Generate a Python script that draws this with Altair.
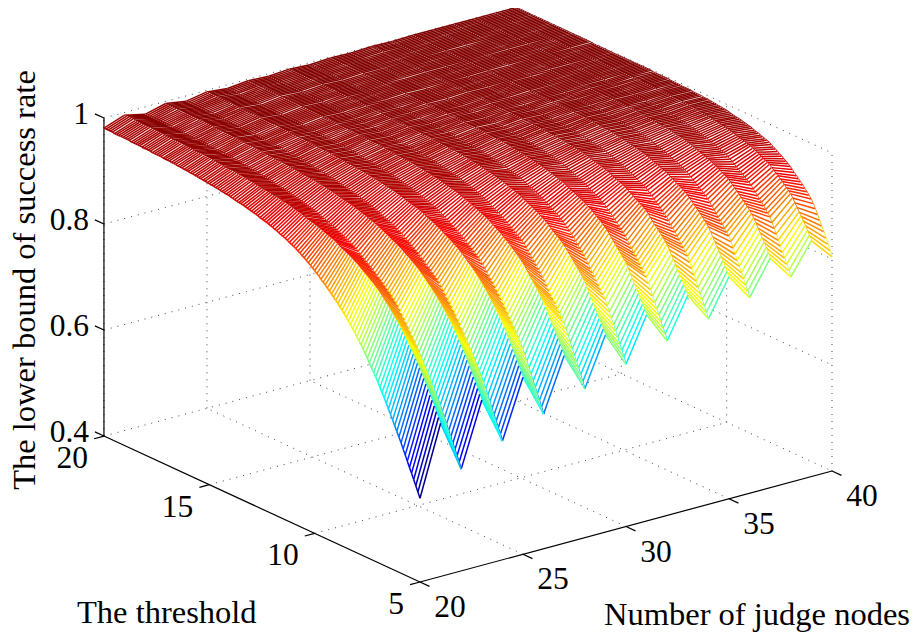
import altair as alt, pandas as pd

# Surface heights (success rate x 1000).
# One list per number of judge nodes; entries run over threshold = 5.0, 5.1, ... 20.0.
Z20=[558,568,578,588,598,607,617,627,636,646, 655,664,673,682,691,699,708,716,724,732, 740,748,755,762,769,776,783,790,796,802, 808,814,819,825,830,835,840,845,849,854, 858,862,866,870,874,878,881,885,889,892, 896,899,902,905,908,911,913,916,918,921, 923,925,927,929,931,933,934,936,938,939, 941,942,944,945,946,947,948,950,951,952, 953,954,955,956,957,958,958,959,960,961, 962,963,963,964,964,965,966,966,967,967, 968,968,969,969,970,970,971,971,972,972, 973,973,973,974,974,974,975,975,975,976, 976,976,976,977,977,977,977,977,978,978, 978,978,978,979,979,979,979,979,980,980, 980,980,980,980,980,980,981,981,981,981, 981]
Z21=[689,698,707,716,725,733,742,750,759,767, 775,782,789,796,803,809,816,822,828,834, 840,845,850,855,860,865,869,874,878,883, 887,890,894,897,900,903,906,909,912,915, 918,920,923,925,927,929,931,933,935,938, 940,942,943,945,946,948,949,951,952,954, 955,956,957,958,959,961,962,963,964,965, 966,967,968,969,970,970,971,972,973,973, 974,975,975,976,976,977,977,978,979,979, 980,980,981,981,982,982,982,983,983,984, 984,984,985,985,986,986,986,987,987,988, 988,988,988,989,989,989,989,989,990,990, 990,990,990,991,991,991,991,991,992,992, 992,992,993,993,993,993,993,993,994,994, 994,994,994,994,994,994,995,995,995,995, 995]
Z22=[592,603,613,623,633,643,653,664,674,684, 694,703,711,720,728,736,744,752,760,768, 776,783,790,797,804,811,817,824,830,837, 843,848,852,857,861,865,869,873,877,880, 884,887,891,894,897,900,903,906,909,913, 916,918,920,923,925,927,929,931,933,935, 937,939,940,942,943,945,946,948,949,951, 952,953,954,955,956,957,958,959,960,961, 962,963,964,965,965,966,967,967,968,969, 970,971,971,972,972,973,974,974,975,975, 976,976,977,977,978,978,978,979,979,980, 980,980,980,981,981,981,981,982,982,982, 982,983,983,983,983,983,984,984,984,984, 984,984,985,985,985,985,985,985,986,986, 986,986,986,986,986,986,986,986,986,986, 986]
Z23=[712,721,730,739,748,756,765,774,782,790, 798,805,812,819,826,832,838,843,849,855, 860,865,870,874,879,883,887,891,895,899, 903,906,909,912,915,918,920,923,926,928, 931,933,935,937,939,941,943,945,947,949, 951,952,954,955,956,958,959,960,961,963, 964,965,966,967,968,968,969,970,971,972, 973,974,975,975,976,977,977,978,978,979, 980,980,981,981,982,982,982,983,983,984, 984,984,985,985,985,986,986,986,986,987, 987,987,988,988,988,989,989,989,989,990, 990,990,990,991,991,991,991,991,992,992, 992,992,992,993,993,993,993,993,994,994, 994,994,994,994,994,995,995,995,995,995, 995,995,995,995,995,996,996,996,996,996, 996]
Z24=[624,635,645,656,666,676,687,697,708,718, 728,736,744,752,760,767,775,783,791,798, 806,812,819,825,831,837,843,849,855,861, 867,871,875,879,883,886,890,894,897,901, 904,907,910,913,916,918,921,924,927,929, 932,934,936,938,940,941,943,945,947,948, 950,951,953,954,955,956,957,958,960,961, 962,963,964,965,966,966,967,968,969,970, 971,972,972,973,973,974,975,975,976,976, 977,977,978,978,979,979,980,980,981,981, 982,982,983,983,983,984,984,984,985,985, 985,985,985,986,986,986,986,986,987,987, 987,987,987,987,987,988,988,988,988,988, 988,988,988,989,989,989,989,989,990,990, 990,990,990,990,990,990,990,990,990,990, 990]
Z25=[734,743,752,760,769,777,786,794,803,811, 819,826,832,838,844,850,856,862,867,873, 878,882,887,891,895,899,902,906,910,913, 917,920,923,925,928,930,933,935,937,940, 942,944,946,948,950,951,953,955,957,958, 960,961,962,963,964,965,966,968,969,970, 971,972,973,974,975,975,976,977,977,978, 979,979,980,980,981,981,982,982,983,983, 984,984,985,985,985,986,986,986,987,987, 987,987,988,988,988,989,989,989,990,990, 990,990,990,991,991,991,991,992,992,992, 992,992,993,993,993,993,993,994,994,994, 994,994,994,994,994,995,995,995,995,995, 995,995,995,995,995,996,996,996,996,996, 996,996,996,996,996,996,997,997,997,997, 997]
Z26=[654,665,676,687,697,707,718,728,739,749, 759,767,775,783,790,797,804,811,818,825, 832,838,844,850,856,861,866,872,877,883, 888,892,895,899,902,905,908,912,915,918, 921,924,926,929,931,934,936,939,941,944, 946,948,949,951,952,954,955,957,958,960, 961,962,963,964,965,966,967,968,969,970, 971,972,973,973,974,975,975,976,977,977, 978,978,979,979,980,980,981,981,982,982, 983,983,984,984,984,985,985,985,986,986, 986,986,987,987,987,988,988,988,988,989, 989,989,989,989,989,990,990,990,990,990, 990,990,990,990,990,991,991,991,991,991, 991,991,991,991,991,992,992,992,992,992, 992,992,992,992,992,993,993,993,993,993, 993]
Z27=[754,763,771,780,788,796,804,813,821,829, 837,843,849,855,861,866,871,877,882,888, 893,897,901,905,908,912,915,919,922,925, 928,931,933,936,938,941,943,946,948,949, 951,953,955,956,958,959,961,962,964,965, 967,968,969,970,971,972,973,974,975,976, 977,978,978,979,979,980,980,981,982,982, 983,983,984,984,985,985,985,986,986,986, 987,987,987,988,988,988,989,989,989,990, 990,990,990,991,991,991,991,991,992,992, 992,992,992,993,993,993,993,993,994,994, 994,994,994,994,994,995,995,995,995,995, 995,995,995,995,995,996,996,996,996,996, 996,996,996,996,996,997,997,997,997,997, 997,997,997,997,997,997,997,997,997,997, 997]
Z28=[681,692,703,714,724,734,745,755,766,776, 786,793,801,808,815,821,827,834,841,848, 854,860,865,871,876,881,886,891,896,901, 905,908,911,914,917,920,923,926,929,932, 934,937,939,941,943,946,948,950,952,954, 956,957,959,960,961,963,964,965,966,968, 969,970,971,971,972,973,974,975,975,976, 977,978,978,979,979,980,981,981,982,982, 983,983,984,984,984,985,985,986,986,986, 987,987,987,988,988,988,988,989,989,989, 989,990,990,990,990,991,991,991,991,992, 992,992,992,992,992,993,993,993,993,993, 993,993,993,993,993,994,994,994,994,994, 994,994,994,994,994,995,995,995,995,995, 995,995,995,995,995,995,995,995,995,995, 995]
Z29=[772,781,789,797,805,813,821,830,838,846, 854,860,865,871,876,881,886,891,896,901, 906,909,913,916,919,922,925,929,932,935, 938,940,943,945,947,949,951,953,955,957, 959,961,962,963,965,966,967,969,970,972, 973,974,975,976,977,978,978,979,980,981, 982,982,983,983,984,984,985,985,986,986, 987,987,988,988,988,989,989,989,989,990, 990,990,990,991,991,991,991,991,992,992, 992,992,992,992,993,993,993,993,993,993, 993,993,994,994,994,994,994,995,995,995, 995,995,995,995,996,996,996,996,996,996, 996,996,996,997,997,997,997,997,997,997, 997,997,997,997,997,998,998,998,998,998, 998,998,998,998,998,998,998,998,998,998, 998]
Z30=[706,717,728,738,749,759,769,780,790,800, 810,817,824,830,837,843,849,855,862,868, 874,879,884,889,894,899,903,908,912,916, 920,923,926,929,931,934,936,939,941,944, 946,948,950,952,954,956,957,959,961,963, 965,966,967,968,969,970,971,973,974,975, 976,977,977,978,978,979,979,980,981,981, 982,982,983,983,984,984,985,985,986,986, 987,987,988,988,988,989,989,989,989,990, 990,990,990,991,991,991,991,991,992,992, 992,992,992,993,993,993,993,993,994,994, 994,994,994,994,994,995,995,995,995,995, 995,995,995,995,995,995,995,995,995,995, 995,995,995,995,995,996,996,996,996,996, 996,996,996,996,996,996,996,996,996,996, 996]
Z31=[789,797,805,813,821,829,837,845,853,861, 869,874,879,884,889,894,899,904,909,914, 918,921,925,928,931,934,937,940,942,945, 947,949,951,953,955,957,958,960,962,964, 966,967,968,970,971,972,973,975,976,977, 978,979,979,980,981,982,982,983,984,984, 985,986,986,987,987,988,988,989,989,990, 990,990,991,991,991,991,991,992,992,992, 992,992,993,993,993,993,993,994,994,994, 994,994,994,994,994,995,995,995,995,995, 995,995,995,995,995,996,996,996,996,996, 996,996,996,996,996,997,997,997,997,997, 997,997,997,997,997,997,997,997,997,997, 997,997,997,997,997,998,998,998,998,998, 998,998,998,998,998,998,998,998,998,998, 998]
Z32=[729,740,750,760,770,780,790,801,811,821, 831,837,843,849,855,861,866,872,878,884, 890,895,899,903,908,912,916,920,924,928, 932,934,937,939,941,944,946,948,951,953, 955,957,958,960,962,964,965,967,969,970, 972,973,974,975,976,977,977,978,979,980, 981,981,982,982,983,983,984,984,985,985, 986,986,987,987,988,988,988,989,989,990, 990,990,991,991,991,991,991,992,992,992, 992,992,993,993,993,993,993,993,994,994, 994,994,994,994,994,995,995,995,995,995, 995,995,995,995,995,996,996,996,996,996, 996,996,996,996,996,997,997,997,997,997, 997,997,997,997,997,997,997,997,997,997, 997,997,997,997,997,997,997,997,997,997, 997]
Z33=[805,813,821,829,836,844,852,860,867,875, 882,887,892,896,901,905,909,914,919,924, 928,931,934,936,939,941,944,947,949,952, 954,956,958,959,961,963,964,966,968,969, 971,972,973,974,975,976,977,979,980,981, 982,983,983,984,985,985,986,986,987,987, 988,988,989,989,990,990,990,991,991,991, 992,992,992,992,993,993,993,993,993,994, 994,994,994,994,994,995,995,995,995,995, 995,995,995,995,996,996,996,996,996,996, 996,996,996,996,996,997,997,997,997,997, 997,997,997,997,997,997,997,997,997,997, 997,997,997,997,997,998,998,998,998,998, 998,998,998,998,998,998,998,998,998,998, 998,998,998,998,998,999,999,999,999,999, 999]
Z34=[750,760,770,780,790,800,810,820,830,840, 850,856,862,867,873,878,884,889,894,900, 905,909,913,917,921,924,928,932,935,939, 942,944,946,948,951,953,955,957,959,961, 963,965,966,968,969,970,972,973,974,976, 977,978,979,979,980,981,982,982,983,984, 985,985,986,986,987,987,987,988,988,989, 989,989,990,990,990,991,991,991,991,992, 992,992,992,993,993,993,993,993,994,994, 994,994,994,994,994,995,995,995,995,995, 995,995,995,995,995,996,996,996,996,996, 996,996,996,996,996,997,997,997,997,997, 997,997,997,997,997,998,998,998,998,998, 998,998,998,998,998,998,998,998,998,998, 998,998,998,998,998,998,998,998,998,998, 998]
Z35=[819,827,835,843,850,858,865,873,880,888, 895,900,904,909,913,917,921,925,929,933, 937,940,942,945,947,949,952,954,956,959, 961,963,964,966,968,969,970,972,973,975, 976,977,978,979,980,981,981,982,983,984, 985,986,986,987,988,988,989,989,990,990, 991,991,992,992,992,993,993,993,993,994, 994,994,994,994,995,995,995,995,995,995, 995,995,995,995,996,996,996,996,996,996, 996,996,996,996,996,997,997,997,997,997, 997,997,997,997,997,997,997,997,997,997, 997,997,997,997,997,998,998,998,998,998, 998,998,998,998,998,998,998,998,998,998, 998,998,998,998,998,999,999,999,999,999, 999,999,999,999,999,999,999,999,999,999, 999]
Z36=[769,779,789,799,809,819,828,838,848,858, 867,872,877,883,888,893,898,903,908,913, 918,922,925,929,932,935,938,941,945,948, 951,953,955,957,959,961,962,964,966,967, 969,970,972,973,974,976,977,979,980,981, 982,983,983,984,985,985,986,986,987,987, 988,988,989,989,990,990,990,991,991,992, 992,992,993,993,993,993,994,994,994,994, 994,994,995,995,995,995,995,995,996,996, 996,996,996,996,996,996,996,996,996,996, 996,996,996,996,997,997,997,997,997,997, 997,997,997,997,997,998,998,998,998,998, 998,998,998,998,998,998,998,998,998,998, 998,998,998,998,998,999,999,999,999,999, 999,999,999,999,999,999,999,999,999,999, 999]
Z37=[833,841,849,857,864,872,879,887,894,900, 905,910,914,918,922,926,930,934,938,942, 945,948,950,952,955,957,959,961,963,965, 966,968,969,971,972,974,975,976,978,979, 980,981,982,983,983,984,985,986,987,987, 988,988,989,989,990,990,991,991,991,992, 992,993,993,993,994,994,994,994,995,995, 995,995,995,995,995,996,996,996,996,996, 996,996,996,996,996,996,997,997,997,997, 997,997,997,997,997,997,997,997,997,997, 997,997,997,997,997,998,998,998,998,998, 998,998,998,998,998,998,998,998,998,998, 998,998,998,998,998,999,999,999,999,999, 999,999,999,999,999,999,999,999,999,999, 999,999,999,999,999,999,999,999,999,999, 999]
Z38=[787,797,807,817,826,836,845,855,864,873, 882,887,892,897,902,906,911,916,920,925, 929,932,935,938,941,944,947,950,953,956, 959,961,963,964,966,967,969,970,972,973, 975,976,977,978,979,980,981,982,983,984, 985,986,986,987,987,988,988,989,989,990, 991,991,992,992,992,993,993,993,993,994, 994,994,994,994,994,995,995,995,995,995, 995,995,995,996,996,996,996,996,996,997, 997,997,997,997,997,997,997,997,997,997, 997,997,997,997,997,998,998,998,998,998, 998,998,998,998,998,998,998,998,998,998, 998,998,998,998,998,999,999,999,999,999, 999,999,999,999,999,999,999,999,999,999, 999,999,999,999,999,999,999,999,999,999, 999]
Z39=[845,853,860,868,875,882,888,895,902,909, 915,919,923,927,931,934,938,941,945,948, 952,954,956,958,960,962,964,966,968,970, 971,972,974,975,976,977,978,980,981,982, 983,984,985,985,986,987,987,988,989,989, 990,990,991,991,992,992,993,993,993,994, 994,994,995,995,995,995,995,996,996,996, 996,996,996,996,997,997,997,997,997,997, 997,997,997,997,997,998,998,998,998,998, 998,998,998,998,998,998,998,998,998,998, 998,998,998,998,998,998,998,998,998,998, 998,998,998,998,998,999,999,999,999,999, 999,999,999,999,999,999,999,999,999,999, 999,999,999,999,999,999,999,999,999,999, 999,999,999,999,999,999,999,999,999,999, 999]
Z40=[804,814,824,834,844,853,862,871,880,888, 895,900,905,909,914,918,922,926,930,934, 938,941,944,947,950,952,955,958,960,963, 965,967,968,970,971,973,974,975,977,978, 979,980,981,982,983,984,984,985,986,987, 988,989,989,990,990,991,991,992,992,993, 993,993,994,994,994,994,994,995,995,995, 995,995,996,996,996,996,996,996,997,997, 997,997,997,997,997,997,998,998,998,998, 998,998,998,998,998,998,998,998,998,998, 998,998,998,998,998,998,998,998,998,998, 998,998,998,998,998,999,999,999,999,999, 999,999,999,999,999,999,999,999,999,999, 999,999,999,999,999,999,999,999,999,999, 999,999,999,999,999,999,999,999,999,999, 999]

COLUMNS=dict(zip(range(20,41),[Z20,Z21,Z22,Z23,Z24,Z25,Z26,Z27,Z28,Z29,Z30,Z31,Z32,Z33,Z34,Z35,Z36,Z37,Z38,Z39,Z40]))
Ts=[5+i/10 for i in range(151)]
Z={n:[v/1000 for v in vals] for n,vals in COLUMNS.items()}
Z_TICKS=[(.4,'0.4'),(.6,'0.6'),(.8,'0.8'),(1,'1')]
T_TICKS=[5,10,15,20]
N_TICKS=[20,25,30,35,40]

W,H=902,624
def px(n,t): return 420+20.6*(n-20)-21.07*(t-5)
def py(n,t,z): return 582-5.55*(n-20)-9.73*(t-5)-530*(z-.4)
sx=alt.Scale(domain=[8,8+W],nice=False,zero=False)
sy=alt.Scale(domain=[8+H,8],nice=False,zero=False)
ZMIN,ZMAX=.558,.999
stops=[0,.11,.36,.61,.86,1]
JET=['#00008f','#0000ff','#00ffff','#ffff00','#ff0000','#800000']
cs=alt.Scale(domain=[ZMIN+s*(ZMAX-ZMIN) for s in stops],range=JET,interpolate='rgb',clamp=True)
X=alt.X('x:Q',scale=sx,axis=None); Y=alt.Y('y:Q',scale=sy,axis=None)
def rule(rows,**mk):
    df=pd.DataFrame(rows)
    enc=dict(x=alt.X('x0:Q',scale=sx,axis=None),x2='x1:Q',y=alt.Y('y0:Q',scale=sy,axis=None),y2='y1:Q')
    if 'c' in df: enc['color']=alt.Color('c:Q',scale=cs,legend=None)
    return alt.Chart(df).mark_rule(**mk).encode(**enc)
def seg(a,b,**k):
    return dict(x0=px(a[0],a[1]),y0=py(*a),x1=px(b[0],b[1]),y1=py(*b),**k)

layers=[]
g=[]
for z in (.6,.8,1):
    g+=[seg((20,20,z),(40,20,z)),seg((40,20,z),(40,5,z))]
for t in (10,15):
    g+=[seg((20,t,.4),(40,t,.4)),seg((40,t,.4),(40,t,1))]
for n in (25,30,35):
    g+=[seg((n,5,.4),(n,20,.4)),seg((n,20,.4),(n,20,1))]
g+=[seg((40,20,.4),(40,20,1)),seg((40,5,.4),(40,5,1)),seg((40,20,.4),(40,5,.4)),seg((20,20,.4),(40,20,.4)),seg((20,20,.4),(20,20,1))]
layers.append(rule(g,color='#444',strokeWidth=1,strokeDash=[1,6]))
a=[seg((20,20,.4),(20,20,1)),seg((20,20,.4),(20,5,.4)),seg((20,5,.4),(40,5,.4))]
a+=[seg((20,20,z),(20,20.43,z)) for z,_ in Z_TICKS]
a+=[seg((20,t,.4),(19.52,t,.4)) for t in T_TICKS]
a+=[seg((n,5,.4),(n,4.55,.4)) for n in N_TICKS]
layers.append(rule(a,color='black',strokeWidth=1.2))

SW=1.5
def t_line(n):
    v=Z[n]
    return rule([seg((n,Ts[i],v[i]),(n,Ts[i+1],v[i+1]),c=v[i]) for i in range(150)],strokeWidth=SW)
layers.append(t_line(40))
for n in range(39,19,-1):
    za,zb=Z[n],Z[n+1]
    poly=[dict(x=px(n,t),y=py(n,t,z)) for t,z in zip(Ts,za)]+[dict(x=px(n+1,t),y=py(n+1,t,z)) for t,z in zip(Ts[::-1],zb[::-1])]
    for i,p in enumerate(poly): p['i']=i
    layers.append(alt.Chart(pd.DataFrame(poly)).mark_line(fill='white',strokeWidth=0).encode(x=X,y=Y,order='i:Q'))
    layers.append(rule([seg((n,Ts[i],za[i]),(n+1,Ts[i],zb[i]),c=za[i]) for i in range(151)],strokeWidth=SW))
    layers.append(t_line(n))

FONT='Liberation Serif'
t=[dict(x=px(n,5)+30,y=py(n,5,.4)+26,s=str(n),al='center') for n in N_TICKS]
t+=[dict(x=px(20,tt)-16,y=py(20,tt,.4)+23,s=str(tt),al='right') for tt in T_TICKS]
t+=[dict(x=89,y=py(20,20,z)-3.5,s=s,al='right') for z,s in Z_TICKS]
tdf=pd.DataFrame(t)
for al in ('center','right'):
    layers.append(alt.Chart(tdf[tdf.al==al]).mark_text(font=FONT,fontSize=31.5,align=al,baseline='middle',color='black').encode(x=X,y=Y,text='s:N'))
def title(s,x,y,**k):
    return alt.Chart(pd.DataFrame({'s':[s],'x':[x],'y':[y]})).mark_text(font=FONT,fontSize=32.5,color='black',**k).encode(x=X,y=Y,text='s:N')
layers.append(title('The threshold',77,623,align='left',baseline='alphabetic'))
layers.append(title('Number of judge nodes',604,625,align='left',baseline='alphabetic'))
layers.append(title('The lower bound of success rate',35,280,align='center',baseline='alphabetic',angle=270))
chart=alt.layer(*layers).properties(width=W,height=H,padding=0,autosize=alt.AutoSizeParams(type='none')).configure_view(stroke=None)
chart.save('out.html',embed_options={'renderer':'svg','actions':False})
